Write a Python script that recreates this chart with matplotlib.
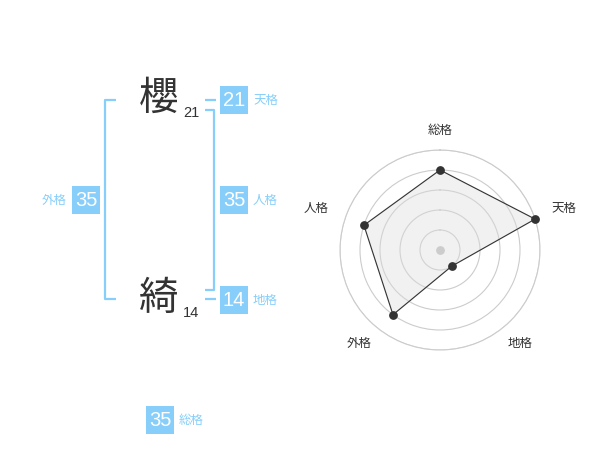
import numpy as np
import matplotlib
matplotlib.use("Agg")
import matplotlib.pyplot as plt
from matplotlib.patches import Rectangle

plt.rcParams['font.family'] = ['Noto Sans CJK JP', 'DejaVu Sans']

# ---- data ----
name_chars = ["櫻", "綺"]
char_strokes = [21, 14]
kaku_labels = ["天格", "人格", "地格", "外格", "総格"]
kaku_values = [21, 35, 14, 35, 35]

radar_cats = ["総格", "天格", "地格", "外格", "人格"]
radar_vals = [4, 5, 1, 4, 4]
radar_max = 5

BLUE = "#87cefa"
DARK = "#333333"
NUMFONT = ['Liberation Sans', 'DejaVu Sans']

fig = plt.figure(figsize=(6.0, 4.7), dpi=100)
ax = fig.add_axes([0, 0, 1, 1])
ax.set_xlim(0, 600)
ax.set_ylim(470, 0)
ax.axis('off')

# name characters with stroke counts
char_y = [99, 299]
for ch, n, y in zip(name_chars, char_strokes, char_y):
    ax.text(159, y, ch, fontsize=28.5, color=DARK, ha='center', va='center')
    ax.text(191, y + 14, str(n), fontsize=10.5, color=DARK, ha='center', va='center', family=NUMFONT)

lw = 1.6
# left bracket (外格)
ax.plot([116, 105, 105, 116], [100, 100, 299, 299], color=BLUE, lw=lw, solid_capstyle='butt')
# right bracket (人格)
ax.plot([205, 214, 214, 205], [110, 110, 290, 290], color=BLUE, lw=lw, solid_capstyle='butt')
# 天格 / 地格 ticks
ax.plot([205, 216], [100, 100], color=BLUE, lw=lw, solid_capstyle='butt')
ax.plot([205, 216], [299, 299], color=BLUE, lw=lw, solid_capstyle='butt')

def box(cx, cy, value, label, label_side):
    ax.add_patch(Rectangle((cx - 14, cy - 14), 28, 28, facecolor=BLUE, edgecolor='none'))
    ax.text(cx, cy + 0.5, str(value), color='white', fontsize=14.5, ha='center', va='center', family=NUMFONT)
    if label_side == 'right':
        ax.text(cx + 19, cy, label, color=BLUE, fontsize=9, ha='left', va='center')
    else:
        ax.text(cx - 19, cy, label, color=BLUE, fontsize=9, ha='right', va='center')

box_pos = {"天格": (234, 100, 'right'), "人格": (234, 200, 'right'), "地格": (234, 300, 'right'),
           "外格": (86, 200, 'left'), "総格": (160, 420, 'right')}
for lab, v in zip(kaku_labels, kaku_values):
    x, y, side = box_pos[lab]
    box(x, y, v, lab, side)

# ---- radar ----
cx, cy, R = 440, 250, 100
pax = fig.add_axes([(cx - R) / 600, (470 - cy - R) / 470, 2 * R / 600, 2 * R / 470], projection='polar')
pax.set_theta_offset(np.pi / 2)
pax.set_theta_direction(-1)
pax.set_ylim(0, radar_max)
pax.set_yticks(range(1, radar_max + 1))
pax.set_yticklabels([])
pax.set_xticks([])
pax.xaxis.grid(False)
pax.yaxis.grid(True, color='#cccccc', lw=0.8)
pax.set_axisbelow(True)
pax.spines['polar'].set_color('#cccccc')
pax.spines['polar'].set_linewidth(0.8)
pax.patch.set_alpha(0)

theta = np.arange(len(radar_cats)) * 2 * np.pi / len(radar_cats)
tt = np.append(theta, theta[0])
vv = np.append(radar_vals, radar_vals[0])
pax.fill(tt, vv, color='#dcdcdc', alpha=0.4, zorder=2)
pax.plot(tt, vv, color=DARK, lw=0.8, zorder=3)
pax.scatter(theta, radar_vals, s=28, color=DARK, zorder=4, clip_on=False)
pax.scatter([0], [0], s=28, color='#cccccc', zorder=4)

for th, lab in zip(theta, radar_cats):
    sx = np.sin(th)
    dx = 0 if abs(sx) < 0.1 else 10 * np.sign(sx)
    dy = 0 if abs(sx) < 0.1 else 4
    pax.annotate(lab, xy=(th, 6.0), xytext=(dx, dy), textcoords='offset pixels',
                 ha='center', va='center', fontsize=9, color=DARK, annotation_clip=False)

fig.savefig("out.png", dpi=100)
